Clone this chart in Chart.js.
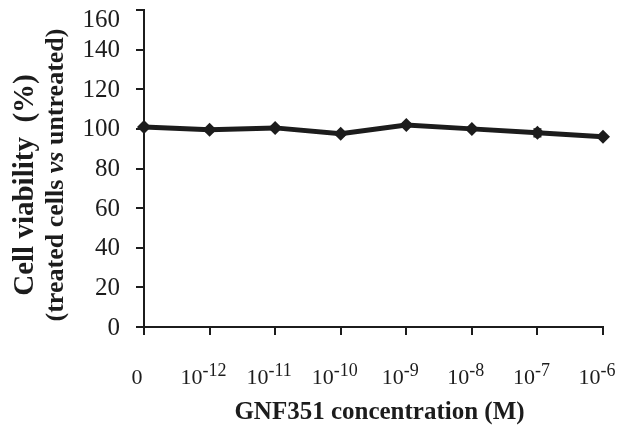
<!DOCTYPE html>
<html>
<head>
<meta charset="utf-8">
<script src="https://cdn.jsdelivr.net/npm/chart.js@4"></script>
<style>
  html, body { margin: 0; padding: 0; background: #fff; }
  #wrap { width: 624px; height: 425px; }
</style>
</head>
<body>
<div id="wrap"><canvas id="myChart" width="624" height="425"></canvas></div>
<script>
var ctx = document.getElementById('myChart').getContext('2d');

// concentrations (M): base 10 and exponent for tick labels
var categories = ["0", "1e-12", "1e-11", "1e-10", "1e-9", "1e-8", "1e-7", "1e-6"];
var exponents = [null, "-12", "-11", "-10", "-9", "-8", "-7", "-6"];
var viability = [101, 99.5, 100.5, 97.5, 102, 100, 98, 96];
var errors = [1, 1, 1, 1, 1, 1, 2, 1];
var yTicks = [0, 20, 40, 60, 80, 100, 120, 140, 160];

var ink = '#1c1c1c';
var serif = "'Liberation Serif', 'Times New Roman', serif";

// error bars + axis labels drawn by hand (superscripts, italic "vs")
var extras = {
    id: 'extras',
    afterDatasetsDraw: (chart) => {
        var c = chart.ctx;
        var x = chart.scales.x, y = chart.scales.y;
        c.save();
        c.strokeStyle = ink;
        c.lineWidth = 1.5;
        viability.forEach((v, i) => {
            var px = x.getPixelForValue(i);
            var top = y.getPixelForValue(v + errors[i]);
            var bot = y.getPixelForValue(v - errors[i]);
            c.beginPath();
            c.moveTo(px, top); c.lineTo(px, bot);
            c.moveTo(px - 4, top); c.lineTo(px + 4, top);
            c.moveTo(px - 4, bot); c.lineTo(px + 4, bot);
            c.stroke();
        });
        c.restore();
    },
    afterDraw: (chart) => {
        var c = chart.ctx;
        var x = chart.scales.x, y = chart.scales.y;
        var area = chart.chartArea;
        c.save();
        c.fillStyle = ink;

        // y tick labels (top one kept inside the canvas)
        c.font = '25px ' + serif;
        c.textAlign = 'right';
        c.textBaseline = 'middle';
        yTicks.forEach(v => {
            c.fillText(String(v), area.left - 24, Math.max(y.getPixelForValue(v) + 1, 20));
        });

        // x tick labels
        c.textBaseline = 'alphabetic';
        var base = area.bottom + 57;
        categories.forEach((cat, i) => {
            var px = x.getPixelForValue(i);
            var exp = exponents[i];
            c.font = '22px ' + serif;
            if (exp === null) {
                c.textAlign = 'center';
                c.fillText('0', px - 7, base);
                return;
            }
            var w1 = c.measureText('10').width;
            c.font = '18px ' + serif;
            var w2 = c.measureText(exp).width;
            var start = px - 6 - (w1 + w2) / 2;
            c.textAlign = 'left';
            c.font = '22px ' + serif;
            c.fillText('10', start, base);
            c.font = '18px ' + serif;
            c.fillText(exp, start + w1, base - 8);
        });

        // x title
        c.font = 'bold 25px ' + serif;
        c.textAlign = 'center';
        c.fillText('GNF351 concentration (M)', (area.left + area.right) / 2 + 6, area.bottom + 92);

        // y title, two rotated lines
        c.translate(0, 180);
        c.rotate(-Math.PI / 2);
        c.textAlign = 'center';
        c.font = 'bold 29px ' + serif;
        c.fillText('Cell viability  (%)', -5, 33);
        var parts = [['(treated cells ', 'bold '], ['vs', 'bold italic '], [' untreated)', 'bold ']];
        var total = 0;
        parts.forEach(p => { c.font = p[1] + '26px ' + serif; total += c.measureText(p[0]).width; });
        var sx = 5 - total / 2;
        c.textAlign = 'left';
        parts.forEach(p => {
            c.font = p[1] + '26px ' + serif;
            c.fillText(p[0], sx, 63);
            sx += c.measureText(p[0]).width;
        });
        c.restore();
    }
};

new Chart(ctx, {
    type: 'line',
    data: {
        labels: categories,
        datasets: [{
            data: viability,
            borderColor: ink,
            backgroundColor: ink,
            borderWidth: 5,
            pointStyle: 'rectRot',
            pointRadius: 7,
            pointBorderWidth: 0,
            tension: 0
        }]
    },
    options: {
        responsive: false,
        animation: false,
        layout: { padding: { left: 136, right: 21, top: 10, bottom: 90 } },
        plugins: {
            legend: { display: false },
            tooltip: { enabled: false }
        },
        scales: {
            x: {
                offset: false,
                grid: { drawOnChartArea: false, drawTicks: true, tickLength: 8, color: ink, lineWidth: 2 },
                border: { color: ink, width: 2 },
                ticks: { display: false }
            },
            y: {
                min: 0,
                max: 160,
                afterBuildTicks: (axis) => { axis.ticks = yTicks.map(v => ({ value: v })); },
                grid: { drawOnChartArea: false, drawTicks: true, tickLength: 8, color: ink, lineWidth: 2 },
                border: { color: ink, width: 2 },
                ticks: { display: false }
            }
        }
    },
    plugins: [extras]
});
</script>
</body>
</html>
